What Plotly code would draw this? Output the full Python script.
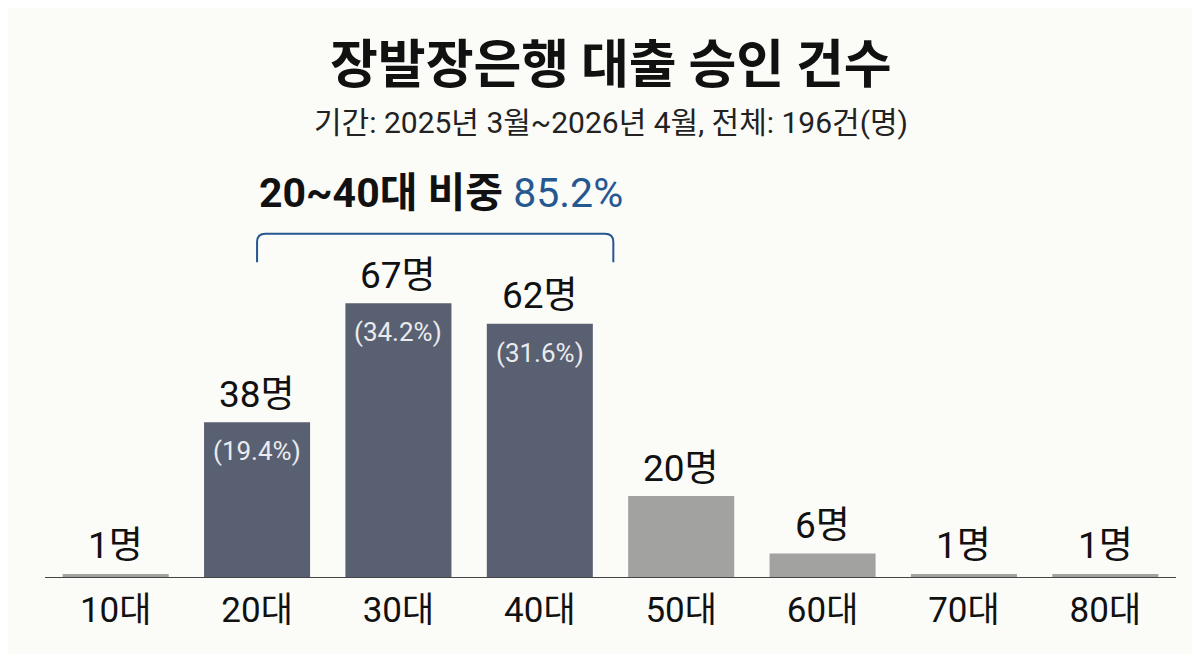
import plotly.graph_objects as go

# data
ages = ["10대", "20대", "30대", "40대", "50대", "60대", "70대", "80대"]
counts = [1, 38, 67, 62, 20, 6, 1, 1]
shares = [None, 19.4, 34.2, 31.6, None, None, None, None]
highlight = [False, True, True, True, False, False, False, False]
group_share = 85.2

title = "장발장은행 대출 승인 건수"
subtitle = "기간: 2025년 3월~2026년 4월, 전체: 196건(명)"

FONT = "Roboto, Noto Sans CJK KR"
TITLE_FONT = "Noto Sans CJK KR"
DARK = "#596071"
GRAY = "#a2a2a0"
BLUE = "#255791"
BG = "#fbfbf8"

colors = [DARK if h else GRAY for h in highlight]

fig = go.Figure()
fig.add_trace(go.Bar(
    x=ages,
    y=counts,
    marker=dict(color=colors, line=dict(width=0)),
    width=0.75,
    hoverinfo="skip",
))

annotations = []
# count labels above bars
for a, c in zip(ages, counts):
    annotations.append(dict(
        x=a, y=c, xref="x", yref="y", text=f"{c}명",
        showarrow=False, yanchor="middle", yshift=28,
        font=dict(family=FONT, size=37, color="#111111"),
    ))
# share labels inside the dark bars
for a, c, s in zip(ages, counts, shares):
    if s is None:
        continue
    annotations.append(dict(
        x=a, y=c, xref="x", yref="y", text=f"({s}%)",
        showarrow=False, yanchor="middle", yshift=-29,
        font=dict(family=FONT, size=26, color="#e9ebef"),
    ))

# title / subtitle
annotations.append(dict(
    x=0.5, y=1.21, xref="paper", yref="paper", text=f"<b>{title}</b>",
    showarrow=False, xanchor="center", yanchor="middle",
    font=dict(family=TITLE_FONT, size=52, color="#111111"),
))
annotations.append(dict(
    x=0.5, y=1.065, xref="paper", yref="paper", text=subtitle,
    showarrow=False, xanchor="center", yanchor="middle",
    font=dict(family=FONT, size=30, color="#222222"),
))
# group share headline
annotations.append(dict(
    x=2.3, y=94, xref="x", yref="y",
    text=f"<b>20~40대 비중 </b><span style='color:{BLUE}'>{group_share}%</span>",
    showarrow=False, xanchor="center", yanchor="middle",
    font=dict(family=FONT, size=41, color="#111111"),
))

# bracket over 20~40대
x0, x1 = 1.0, 3.52
yt, yb = 84, 77
rx, ry = 0.06, 2.0
path = (f"M {x0},{yb} L {x0},{yt - ry} Q {x0},{yt} {x0 + rx},{yt} "
        f"L {x1 - rx},{yt} Q {x1},{yt} {x1},{yt - ry} L {x1},{yb}")

fig.update_layout(
    width=1192,
    height=646,
    paper_bgcolor=BG,
    plot_bgcolor=BG,
    margin=dict(l=37, r=24, t=142, b=76),
    showlegend=False,
    bargap=0.25,
    annotations=annotations,
    shapes=[dict(type="path", path=path, xref="x", yref="y",
                 line=dict(color=BLUE, width=2))],
    xaxis=dict(
        range=[-0.5, 7.5],
        showgrid=False,
        zeroline=False,
        showline=False,
        ticks="",
        ticklabelstandoff=8,
        tickfont=dict(family=FONT, size=35, color="#111111"),
    ),
    yaxis=dict(
        range=[0, 104.4],
        visible=False,
        showgrid=False,
        zeroline=False,
    ),
)
# baseline
fig.add_hline(y=0, line=dict(color="#444444", width=2))

fig.write_html("out.html")
